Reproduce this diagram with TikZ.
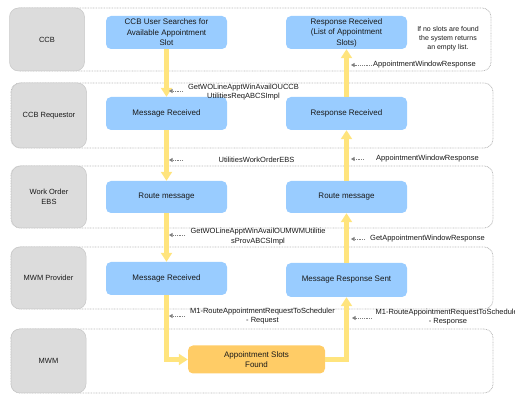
\documentclass[tikz,border=0pt]{standalone}
\usepackage{fontspec}
\setmainfont{Liberation Sans}
\usetikzlibrary{arrows.meta}
\definecolor{boxblue}{RGB}{153,204,255}
\definecolor{lanegrey}{RGB}{220,220,220}
\definecolor{laneedge}{RGB}{200,200,200}
\definecolor{dotgrey}{RGB}{185,185,185}
\definecolor{orangebox}{RGB}{255,204,102}
\definecolor{yarrowc}{RGB}{255,228,125}
\definecolor{txt}{RGB}{25,25,25}
\tikzset{
  lane/.style={draw=dotgrey, line width=0.8pt, dash pattern=on 0.8pt off 0.8pt, rounded corners=9pt},
  lanelabel/.style={draw=laneedge, fill=lanegrey, rounded corners=9pt, line width=0.5pt,
    minimum width=75pt, align=center, text=txt, font=\fontsize{7.5}{9.5}\selectfont, inner sep=0pt},
  stepbox/.style={fill=boxblue, rounded corners=5pt, minimum width=121pt, minimum height=33pt,
    align=center, text=txt, font=\fontsize{8}{10.5}\selectfont, inner sep=0pt},
  resultbox/.style={fill=orangebox, rounded corners=5pt, minimum width=137pt, minimum height=28pt,
    align=center, text=txt, font=\fontsize{8}{10.5}\selectfont, inner sep=0pt},
  msg/.style={align=center, text=txt, font=\fontsize{7.5}{9.5}\selectfont, inner sep=0pt},
  flow/.style={draw=yarrowc, line width=4.5pt, -{Triangle[width=11pt,length=9pt]}, line join=miter},
  hint/.style={draw=gray, line width=0.7pt, dash pattern=on 1.2pt off 1pt, -{Triangle[width=4pt,length=3.5pt]}},
}
\begin{document}
\begin{tikzpicture}[x=1pt,y=-1pt]
\useasboundingbox (0,0) rectangle (515,403);
% lanes
\draw[lane] (11,8) rectangle (491,71);
\draw[lane] (11,83) rectangle (493,148);
\draw[lane] (11,166) rectangle (493,228);
\draw[lane] (11,247) rectangle (493,309);
\draw[lane] (11,329) rectangle (493,393);
% lane labels
\node[lanelabel, minimum height=63pt] (l1) at (47,39.5) {CCB};
\node[lanelabel, minimum height=65pt] (l2) at (49,115.5) {CCB Requestor};
\node[lanelabel, minimum height=62pt] (l3) at (49,197) {Work Order\\EBS};
\node[lanelabel, minimum height=62pt] (l4) at (48.5,278) {MWM Provider};
\node[lanelabel, minimum height=64pt] (l5) at (48.5,361) {MWM};
% boxes
\node[stepbox] (b1) at (166.5,32.5) {CCB User Searches for\\Available Appointment\\Slot};
\node[stepbox] (b2) at (166.5,113.5) {Message Received};
\node[stepbox, minimum height=32pt] (b3) at (166.5,197) {Route message};
\node[stepbox] (b4) at (166.5,278.5) {Message Received};
\node[stepbox] (r1) at (346.5,32.5) {Response Received\\(List of Appointment\\Slots)};
\node[stepbox] (r2) at (346.5,113.5) {Response Received};
\node[stepbox, minimum height=32pt] (r3) at (346.5,197) {Route message};
\node[stepbox, minimum height=34pt] (r4) at (346.5,280) {Message Response Sent};
\node[resultbox] (o) at (256.5,359.5) {Appointment Slots\\Found};
% flow arrows
\draw[flow] (b1.south) -- (b2.north);
\draw[flow] (b2.south) -- (b3.north);
\draw[flow] (b3.south) -- (b4.north);
\draw[flow] (b4.south) |- (o.west);
\draw[flow] (o.east) -| (r4.south);
\draw[flow] (r4.north) -- (r3.south);
\draw[flow] (r3.north) -- (r2.south);
\draw[flow] (r2.north) -- (r1.south);
% message labels
\node[msg] (m1) at (243.5,92) {GetWOLineApptWinAvailOUCCB\\UtilitiesReqABCSImpl};
\node[msg] (m2) at (256.5,160) {UtilitiesWorkOrderEBS};
\node[msg] (m3) at (258,236.5) {GetWOLineApptWinAvailOUMWMUtilitie\\sProvABCSImpl};
\node[msg] (m4) at (262.5,316) {M1-RouteAppointmentRequestToScheduler\\- Request};
\node[msg] (n1) at (424.5,65) {AppointmentWindowResponse};
\node[msg] (n2) at (427.5,159) {AppointmentWindowResponse};
\node[msg] (n3) at (427.5,239) {GetAppointmentWindowResponse};
\node[msg] (n4) at (448,317) {M1-RouteAppointmentRequestToScheduler\\- Response};
\node[msg, font=\fontsize{7}{9}\selectfont] (note) at (448,39) {If no slots are found\\the system returns\\an empty list.};
% hint arrows
\coordinate (h1s) at (183,91);  \coordinate (h1e) at (169,91);
\coordinate (h2s) at (183,160); \coordinate (h2e) at (169,160);
\coordinate (h3s) at (185,235); \coordinate (h3e) at (169,235);
\coordinate (h4s) at (185,316); \coordinate (h4e) at (169,316);
\coordinate (k1s) at (372,65);  \coordinate (k1e) at (351,65);
\coordinate (k2s) at (364,159); \coordinate (k2e) at (351,159);
\coordinate (k3s) at (365,239); \coordinate (k3e) at (351,239);
\coordinate (k4s) at (372,318); \coordinate (k4e) at (352,318);
\foreach \p in {h1,h2,h3,h4,k1,k2,k3,k4} \draw[hint] (\p s) -- (\p e);
\end{tikzpicture}
\end{document}
